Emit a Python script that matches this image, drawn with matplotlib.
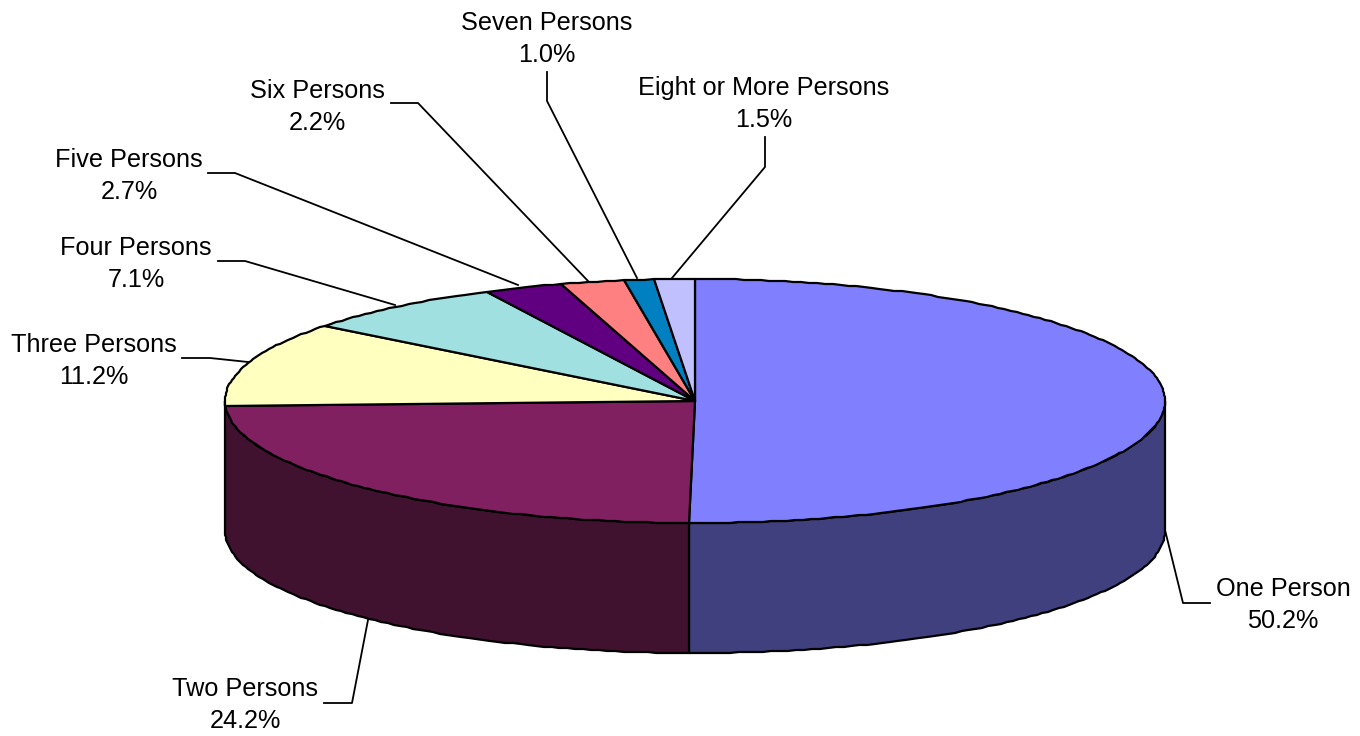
import numpy as np
import matplotlib
matplotlib.use("Agg")
import matplotlib.pyplot as plt

plt.rcParams['font.family'] = ['Liberation Sans', 'DejaVu Sans']

# Données
categories = ['One Person', 'Two Persons', 'Three Persons', 'Four Persons',
              'Five Persons', 'Six Persons', 'Seven Persons', 'Eight or More Persons']
shares = [50.2, 24.2, 11.2, 7.1, 2.7, 2.2, 1.0, 1.5]

top_colors = ['#8080FF', '#802060', '#FFFFC0', '#A0E0E0',
              '#600080', '#FF8080', '#0080C0', '#C0C0FF']
side_colors = ['#40407F', '#40122F']

# Géométrie du camembert 3D (pixels)
cx, cy = 695, 401
rx, ry = 470, 122
depth = 130

# Étiquettes : centre du texte et trait de rappel (texte -> coude -> camembert)
label_pos = [(1283, 605), (245, 705), (94, 361), (136, 264),
             (129, 176), (317, 107), (547, 39), (764, 104)]
leaders = [[(1210, 603), (1183, 603), (1165, 530)],
           [(324, 703), (352, 703), (368, 620)],
           [(182, 358), (210, 358), (248, 362)],
           [(218, 261), (245, 261), (395, 305)],
           [(208, 173), (235, 173), (518, 285)],
           [(391, 103), (418, 103), (588, 281)],
           [(547, 72), (547, 101), (637, 278)],
           [(765, 137), (765, 167), (672, 278)]]


def rim(a0, a1):
    # angles en degrés, sens horaire depuis le haut
    # contour arrondi au pixel, léger escalier comme l'original
    n = max(2, int(abs(a1 - a0)) + 1)
    t = np.radians(np.linspace(a0, a1, n))
    return np.round(cx + rx * np.cos(t)), np.round(cy - ry * np.sin(t))


fig = plt.figure(figsize=(13.6, 7.36), dpi=100)
ax = fig.add_axes([0, 0, 1, 1])
ax.set_xlim(0, 1360)
ax.set_ylim(736, 0)
ax.axis('off')

# Angles des parts (les pourcentages arrondis font 100.1, on borne au tour complet)
edges = np.maximum(90 - np.cumsum([0] + shares) * 3.6, -270)

# Flancs visibles : seulement la moitié avant (de 0 à -180 degrés)
side_spans = [(0, edges[1]), (edges[1], -180)]
for span, col in zip(side_spans, side_colors):
    x, y = rim(span[0], span[1])
    xs = np.concatenate([x, x[::-1]])
    ys = np.concatenate([y, y[::-1] + depth])
    ax.fill(xs, ys, facecolor=col, edgecolor='black', lw=1.6, joinstyle='round', zorder=2)

# Dessus
for i in range(len(shares)):
    x, y = rim(edges[i], edges[i + 1])
    xs = np.concatenate([[cx], x])
    ys = np.concatenate([[cy], y])
    ax.fill(xs, ys, facecolor=top_colors[i], edgecolor='black', lw=1.6, joinstyle='round', zorder=3)

# Étiquettes et traits de rappel
for name, val, pos, pts in zip(categories, shares, label_pos, leaders):
    ax.plot([p[0] for p in pts], [p[1] for p in pts], color='black', lw=1.3, zorder=4)
    ax.text(pos[0], pos[1], f"{name}\n{val:.1f}%", ha='center', va='center',
            fontsize=18.2, linespacing=1.45, color='black', zorder=5)

fig.savefig('out.png', dpi=100)
